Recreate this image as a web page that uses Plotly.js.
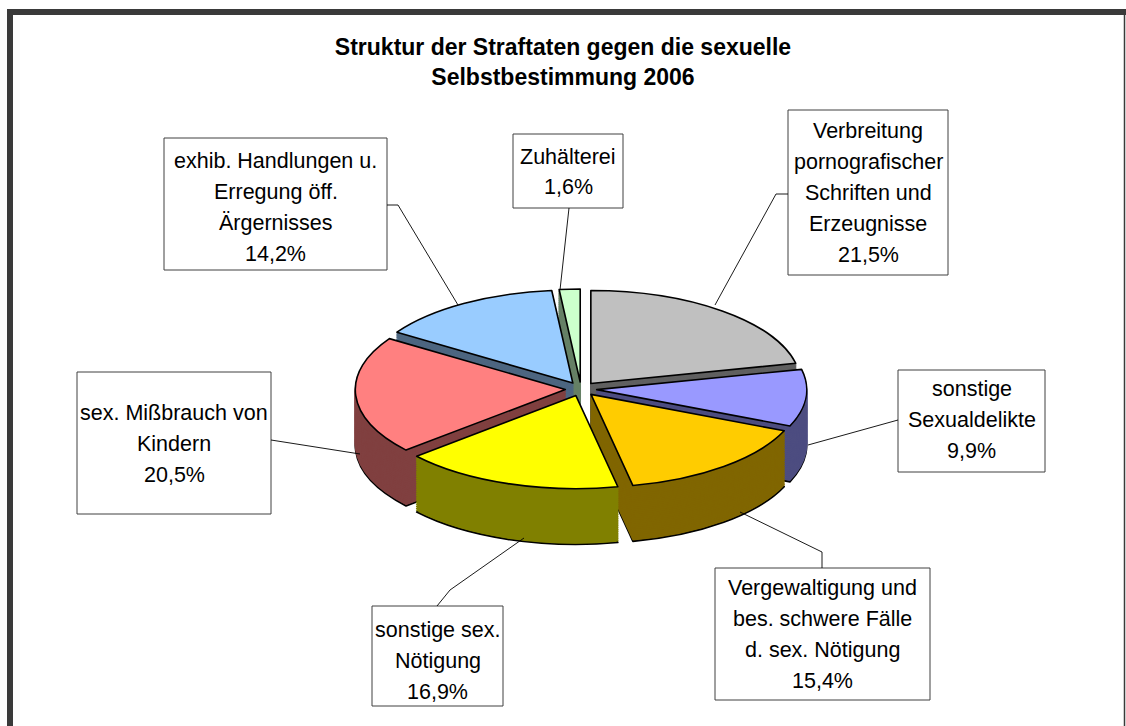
<!DOCTYPE html>
<html>
<head>
<meta charset="utf-8">
<script src="https://cdn.plot.ly/plotly-3.0.1.min.js"></script>
<style>
  html, body { margin: 0; padding: 0; background: #ffffff; }
  #chart { width: 1126px; height: 726px; }
  .pielayer path { vector-effect: non-scaling-stroke; }
</style>
</head>
<body>
<div id="chart"></div>
<script>
// ---- data ----
var categories = [
  "Verbreitung<br>pornografischer<br>Schriften und<br>Erzeugnisse",
  "sonstige<br>Sexualdelikte",
  "Vergewaltigung und<br>bes. schwere Fälle<br>d. sex. Nötigung",
  "sonstige sex.<br>Nötigung",
  "sex. Mißbrauch von<br>Kindern",
  "exhib. Handlungen u.<br>Erregung öff.<br>Ärgernisses",
  "Zuhälterei"
];
var values = [21.5, 9.9, 15.4, 16.9, 20.5, 14.2, 1.6];
var topColors  = ["#C0C0C0", "#9999FF", "#FFCC00", "#FFFF00", "#FF8080", "#99CCFF", "#CCFFCC"];
var sideColors = ["#606060", "#4D4D80", "#806600", "#808000", "#804040", "#4D6680", "#668066"];

// ---- layout helpers (pixels -> paper) ----
var W = 1126, H = 726;
function X(p) { return p / W; }
function Y(p) { return 1 - p / H; }

var pull = 0.075;
var rPre = 210;                 // pie radius before vertical squash
var half = rPre * (1 + pull);   // half domain size in px
var cxPx = 581;
var squash = 0.443;
var centerPost = 389;
var topPre = 280;
var depthPre = 126;
var nSide = 30;

var labelsPlain = categories.map(function (c) { return c.replace(/<br>/g, " "); });

function pieTrace(shift, colors, lineColor, lineWidth) {
  var cy = topPre + shift;
  return {
    type: "pie",
    labels: labelsPlain,
    values: values,
    sort: false,
    direction: "clockwise",
    rotation: 0,
    pull: pull,
    textinfo: "none",
    hoverinfo: "skip",
    showlegend: false,
    marker: { colors: colors, line: { color: lineColor, width: lineWidth } },
    domain: { x: [X(cxPx - half), X(cxPx + half)], y: [Y(cy + half), Y(cy - half)] }
  };
}

var data = [];
for (var k = nSide; k >= 1; k--) {
  var d = depthPre * k / nSide;
  if (k === nSide) data.push(pieTrace(d, sideColors, "#000000", 1.6));
  else data.push(pieTrace(d, sideColors, sideColors, 1.5));
}
data.push(pieTrace(0, topColors, "#000000", 1.6));

// ---- label boxes ----
var boxes = [
  { x0: 788, x1: 948, y0: 110, y1: 275, c: 193 },
  { x0: 898, x1: 1045, y0: 370, y1: 472, c: 420 },
  { x0: 715, x1: 930, y0: 568, y1: 700, c: 634 },
  { x0: 372, x1: 503, y0: 606, y1: 706, c: 661 },
  { x0: 77,  x1: 271, y0: 372, y1: 514, c: 444 },
  { x0: 164, x1: 387, y0: 138, y1: 270, c: 207 },
  { x0: 513, x1: 623, y0: 134, y1: 208, c: 172 }
];
var leaders = [
  [[788,194],[776,194],[715,305]],
  [[898,420],[808,445]],
  [[822,568],[822,552],[740,512]],
  [[437,606],[450,590],[524,538]],
  [[271,440],[360,454]],
  [[387,205],[398,205],[458,305]],
  [[569,208],[560,290]]
];

var shapes = [];
var annotations = [];
var lineSpacing = 31;
var font = { family: "Liberation Sans, Arial, sans-serif", size: 21.5, color: "#000000" };

boxes.forEach(function (b, i) {
  shapes.push({
    type: "rect", xref: "paper", yref: "paper",
    x0: X(b.x0), x1: X(b.x1), y0: Y(b.y1), y1: Y(b.y0),
    line: { color: "#404040", width: 1 }, fillcolor: "#ffffff"
  });
  var lines = categories[i].split("<br>");
  lines.push(values[i].toFixed(1).replace(".", ",") + "%");
  var n = lines.length;
  lines.forEach(function (t, j) {
    annotations.push({
      xref: "paper", yref: "paper",
      x: X((b.x0 + b.x1) / 2), y: Y(b.c + (j - (n - 1) / 2) * lineSpacing),
      xanchor: "center", yanchor: "middle",
      text: t, showarrow: false, font: font
    });
  });
  var pts = leaders[i];
  var path = "M" + pts.map(function (p) { return X(p[0]) + "," + Y(p[1]); }).join(" L");
  shapes.push({
    type: "path", xref: "paper", yref: "paper", path: path,
    line: { color: "#000000", width: 0.9 }
  });
});

// frame
shapes.push({ type: "rect", xref: "paper", yref: "paper", x0: X(7), x1: X(1126), y0: Y(15), y1: Y(9), line: { width: 0 }, fillcolor: "#3a3a3a", layer: "below" });
shapes.push({ type: "rect", xref: "paper", yref: "paper", x0: X(7), x1: X(13), y0: Y(726), y1: Y(9), line: { width: 0 }, fillcolor: "#3a3a3a", layer: "below" });
shapes.push({ type: "line", xref: "paper", yref: "paper", x0: X(1124.5), x1: X(1124.5), y0: Y(726), y1: Y(9), line: { color: "#3a3a3a", width: 1.5 }, layer: "below" });

var layout = {
  width: W, height: H,
  margin: { l: 0, r: 0, t: 0, b: 0 },
  paper_bgcolor: "#ffffff",
  plot_bgcolor: "#ffffff",
  showlegend: false,
  hovermode: false,
  title: {
    text: "Struktur der Straftaten gegen die sexuelle<br>Selbstbestimmung 2006",
    font: { family: "Liberation Sans, Arial, sans-serif", size: 23, color: "#000000", weight: "bold" },
    x: 0.5, xanchor: "center", y: Y(55), yanchor: "middle", yref: "paper"
  },
  shapes: shapes,
  annotations: annotations
};

Plotly.newPlot("chart", data, layout, { displayModeBar: false, staticPlot: true }).then(function (gd) {
  var t = centerPost - squash * topPre;
  var layer = gd.querySelector(".pielayer");
  if (layer) layer.setAttribute("transform", "translate(0," + t + ") scale(1," + squash + ")");
});
</script>
</body>
</html>
